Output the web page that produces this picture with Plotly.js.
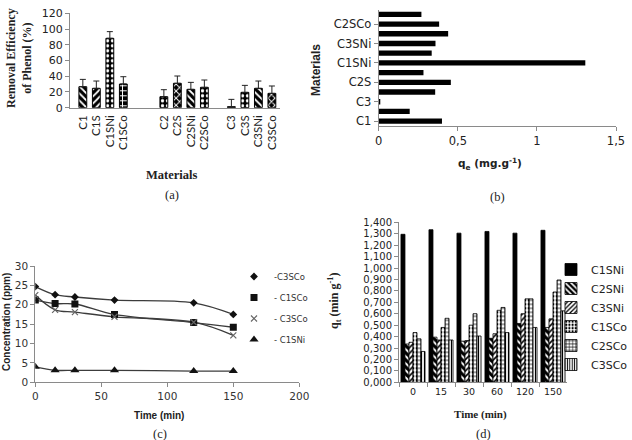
<!DOCTYPE html>
<html>
<head>
<meta charset="utf-8">
<script src="https://cdn.plot.ly/plotly-3.0.1.min.js"></script>
<style>
  html, body { margin: 0; padding: 0; background: #fff; }
  #chart { width: 632px; height: 440px; }
</style>
</head>
<body>
<div id="chart"></div>
<script>
// ---- (a) removal efficiency of phenol per material ----
const removalMaterials = ['C1', 'C1S', 'C1SNi', 'C1SCo', 'C2', 'C2S', 'C2SNi', 'C2SCo', 'C3', 'C3S', 'C3SNi', 'C3SCo'];
const removalPct = [26.7, 24.6, 88.2, 30.1, 14.0, 31.0, 23.3, 25.9, 1.3, 19.5, 24.6, 18.2];
const removalErr = [9.3, 9.3, 8.5, 9.3, 8.9, 9.3, 8.9, 9.3, 9.3, 8.9, 9.3, 9.4];

// ---- (b) equilibrium capacity qe per material ----
const qeMaterials = ['C1', 'C2', 'C3', 'C1S', 'C2S', 'C3S', 'C1SNi', 'C2SNi', 'C3SNi', 'C1SCo', 'C2SCo', 'C3SCo'];
const qeValues = [0.40, 0.196, 0.01, 0.357, 0.456, 0.283, 1.306, 0.335, 0.359, 0.439, 0.382, 0.27];
const qeTickLabels = ['C1', 'C3', 'C2S', 'C1SNi', 'C3SNi', 'C2SCo'];

// ---- (c) concentration vs time ----
const timeMin = [0, 15, 30, 60, 120, 150];
const concNames = ['-C3SCo', '- C1SCo', '- C3SCo', '- C1SNi'];
const concDiamond = [24.7, 22.6, 22.0, 21.2, 20.5, 17.5];
const concSquare = [21.2, 20.3, 20.2, 17.5, 15.4, 14.2];
const concCross = [22.5, 18.7, 18.1, 16.9, 15.5, 12.1];
const concTriangle = [4.0, 3.1, 3.1, 3.1, 2.9, 2.9];

// ---- (d) qt vs time ----
const timeLabels = ['0', '15', '30', '60', '120', '150'];
const qtNames = ['C1SNi', 'C2SNi', 'C3SNi', 'C1SCo', 'C2SCo', 'C3SCo'];
const qtC1SNi = [1.295, 1.335, 1.305, 1.320, 1.305, 1.330];
const qtC2SNi = [0.335, 0.395, 0.360, 0.385, 0.515, 0.480];
const qtC3SNi = [0.350, 0.370, 0.365, 0.425, 0.600, 0.555];
const qtC1SCo = [0.435, 0.480, 0.500, 0.630, 0.730, 0.790];
const qtC2SCo = [0.380, 0.560, 0.600, 0.655, 0.730, 0.895];
const qtC3SCo = [0.270, 0.370, 0.405, 0.435, 0.480, 0.625];

const W = 632, H = 440;
const px = v => v / W;
const py = v => 1 - v / H;

const SANS = 'DejaVu Sans, sans-serif';
const ARIAL = 'Liberation Sans, Arial, sans-serif';
const SERIF = 'Liberation Serif, Times New Roman, serif';
const TXT = '#222';
const AXC = '#8a8a8a';

// category slots for (a): blank slots separate the three material families
const slotsA = [...removalMaterials.slice(0, 4), ' ', '  ', ...removalMaterials.slice(4, 8), '   ', ...removalMaterials.slice(8)];
const patternA = ['\\', '/', '.', '+', '.', 'x', '\\', '.', '', '.', '\\', 'x'];

const traces = [];

traces.push({
  type: 'bar', x: removalMaterials, y: removalPct, xaxis: 'x', yaxis: 'y',
  width: 0.58, showlegend: false,
  marker: {
    color: '#000', line: { color: '#000', width: 1 },
    pattern: { shape: patternA, fgcolor: '#fff', bgcolor: '#000', size: 5, solidity: 0.35 }
  },
  error_y: { type: 'data', symmetric: false, array: removalErr, arrayminus: removalErr.map(() => 0),
             color: '#222', thickness: 1, width: 3 }
});

traces.push({
  type: 'bar', orientation: 'h', x: qeValues, y: qeMaterials, xaxis: 'x2', yaxis: 'y2',
  width: 0.55, showlegend: false, marker: { color: '#000' }
});

// (c) smooth curves plus marker-only entries for the legend
const concSeries = [concDiamond, concSquare, concCross, concTriangle];
const concSymbols = [
  { symbol: 'diamond', size: 6, color: '#111' },
  { symbol: 'square', size: 7, color: '#111' },
  { symbol: 'x-thin', size: 6, color: '#777', line: { color: '#666', width: 1.2 } },
  { symbol: 'triangle-up', size: 8, color: '#111' }
];
concSeries.forEach((ys) => {
  traces.push({
    type: 'scatter', mode: 'lines', x: timeMin, y: ys, xaxis: 'x3', yaxis: 'y3',
    line: { color: '#3c3c3c', width: 1.3, shape: 'spline', smoothing: 1 }, showlegend: false, hoverinfo: 'skip'
  });
});
concSeries.forEach((ys, i) => {
  traces.push({
    type: 'scatter', mode: 'markers', x: timeMin, y: ys, xaxis: 'x3', yaxis: 'y3',
    name: concNames[i], legend: 'legend', legendgroup: 'c' + i,
    marker: Object.assign({}, concSymbols[i])
  });
});

// (d) grouped bars
const qtSeries = [qtC1SNi, qtC2SNi, qtC3SNi, qtC1SCo, qtC2SCo, qtC3SCo];
const qtStyles = [
  { color: '#000', pattern: { shape: '' } },
  { color: '#000', pattern: { shape: '\\', fgcolor: '#fff', bgcolor: '#000', size: 5, solidity: 0.4 } },
  { color: '#fff', pattern: { shape: '/', fgcolor: '#000', bgcolor: '#fff', size: 4, solidity: 0.4 } },
  { color: '#fff', pattern: { shape: '.', fgcolor: '#000', bgcolor: '#fff', size: 4, solidity: 0.4 } },
  { color: '#fff', pattern: { shape: '+', fgcolor: '#000', bgcolor: '#fff', size: 4, solidity: 0.35 } },
  { color: '#fff', pattern: { shape: '|', fgcolor: '#000', bgcolor: '#fff', size: 3, solidity: 0.4 } }
];
qtSeries.forEach((ys, i) => {
  traces.push({
    type: 'bar', x: timeLabels, y: ys, xaxis: 'x4', yaxis: 'y4',
    name: qtNames[i], legend: 'legend2', legendgroup: 'd' + i,
    marker: Object.assign({ line: { color: '#000', width: 0.8 } }, qtStyles[i])
  });
});

const baseAxis = { showgrid: false, zeroline: false, showline: true, linecolor: AXC, linewidth: 1,
                   tickcolor: AXC, ticklen: 4, fixedrange: true };

const ann = (text, x, y, font, angle) => ({
  text, x: px(x), y: py(y), xref: 'paper', yref: 'paper', showarrow: false,
  xanchor: 'center', yanchor: 'middle', textangle: angle || 0, font
});

const layout = {
  width: W, height: H,
  margin: { l: 0, r: 0, t: 0, b: 0, autoexpand: false },
  paper_bgcolor: '#fff', plot_bgcolor: 'rgba(0,0,0,0)',
  separators: ',.',
  barmode: 'group', bargap: 0.14, bargroupgap: 0,
  showlegend: true,

  xaxis: Object.assign({}, baseAxis, {
    domain: [px(70), px(280)], anchor: 'y', type: 'category',
    categoryorder: 'array', categoryarray: slotsA, range: [-0.95, 14.6],
    tickmode: 'array', tickvals: removalMaterials, ticktext: removalMaterials,
    ticks: '', tickangle: -90, ticklabelstandoff: 2,
    tickfont: { family: 'Lato, sans-serif', size: 11.5, color: TXT }
  }),
  yaxis: Object.assign({}, baseAxis, {
    domain: [py(107.7), py(13.3)], anchor: 'x', range: [0, 120], dtick: 20,
    ticks: 'outside', tickfont: { family: SANS, size: 11, color: TXT }
  }),

  xaxis2: Object.assign({}, baseAxis, {
    domain: [px(378.7), px(616)], anchor: 'y2', range: [0, 1.5], dtick: 0.5,
    ticks: 'outside', tickfont: { family: SANS, size: 11.5, color: TXT }
  }),
  yaxis2: Object.assign({}, baseAxis, {
    domain: [py(126), py(9.5)], anchor: 'x2', type: 'category',
    categoryorder: 'array', categoryarray: qeMaterials, range: [-0.5, 11.5],
    tickmode: 'array', tickvals: qeTickLabels, ticktext: qeTickLabels,
    ticks: 'outside', tickfont: { family: SANS, size: 11.5, color: TXT }
  }),

  xaxis3: Object.assign({}, baseAxis, {
    domain: [px(35.3), px(299.3)], anchor: 'y3', range: [0, 200], dtick: 50,
    ticks: 'outside', tickfont: { family: SANS, size: 10.5, color: '#333' }
  }),
  yaxis3: Object.assign({}, baseAxis, {
    domain: [py(382.3), py(266)], anchor: 'x3', range: [0, 30], dtick: 5,
    ticks: 'outside', tickfont: { family: SANS, size: 10.5, color: '#333' }
  }),

  xaxis4: Object.assign({}, baseAxis, {
    domain: [px(399), px(567)], anchor: 'y4', type: 'category', tickangle: 0,
    ticks: 'outside', tickson: 'boundaries', tickfont: { family: SANS, size: 9.5, color: TXT }
  }),
  yaxis4: Object.assign({}, baseAxis, {
    domain: [py(382.3), py(222.3)], anchor: 'x4', range: [0, 1.4], dtick: 0.1,
    tickformat: '.3f', ticks: 'outside', tickfont: { family: SANS, size: 10, color: TXT }
  }),

  legend: {
    x: px(234), y: py(262), xanchor: 'left', yanchor: 'top',
    bgcolor: 'rgba(0,0,0,0)', borderwidth: 0, tracegroupgap: 2,
    font: { family: SANS, size: 8.5, color: '#333' }
  },
  legend2: {
    x: px(551), y: py(255), xanchor: 'left', yanchor: 'top',
    bgcolor: 'rgba(0,0,0,0)', borderwidth: 0, tracegroupgap: 0,
    font: { family: SANS, size: 11, color: TXT }
  },

  annotations: [
    ann('Removal Efficiency<br>of Phenol (%)', 19, 58, { family: SERIF, size: 12, color: TXT, weight: 'bold' }, -90),
    ann('Materials', 172, 175, { family: SERIF, size: 12.5, color: TXT, weight: 'bold' }),
    ann('(a)', 172, 195, { family: SERIF, size: 12.5, color: TXT }),

    ann('Materials', 316, 70, { family: ARIAL, size: 12, color: TXT, weight: 'bold' }, -90),
    ann('q<sub>e</sub> (mg.g<sup>-1</sup>)', 490, 164, { family: SANS, size: 10.5, color: TXT, weight: 'bold' }),
    ann('(b)', 497, 197, { family: SERIF, size: 12.5, color: TXT }),

    ann('Concentration (ppm)', 6, 322, { family: ARIAL, size: 10, color: TXT, weight: 'bold' }, -90),
    ann('Time (min)', 159, 415, { family: ARIAL, size: 10, color: TXT, weight: 'bold' }),
    ann('(c)', 160, 434, { family: SERIF, size: 12.5, color: TXT }),

    ann('q<sub>t</sub> (min g<sup>-1</sup>)', 334, 301, { family: SERIF, size: 12, color: TXT, weight: 'bold' }, -90),
    ann('Time (min)', 480, 414, { family: SERIF, size: 11, color: TXT, weight: 'bold' }),
    ann('(d)', 483, 434, { family: SERIF, size: 12.5, color: TXT })
  ]
};

Plotly.newPlot('chart', traces, layout, { displayModeBar: false, staticPlot: true });
</script>
</body>
</html>
